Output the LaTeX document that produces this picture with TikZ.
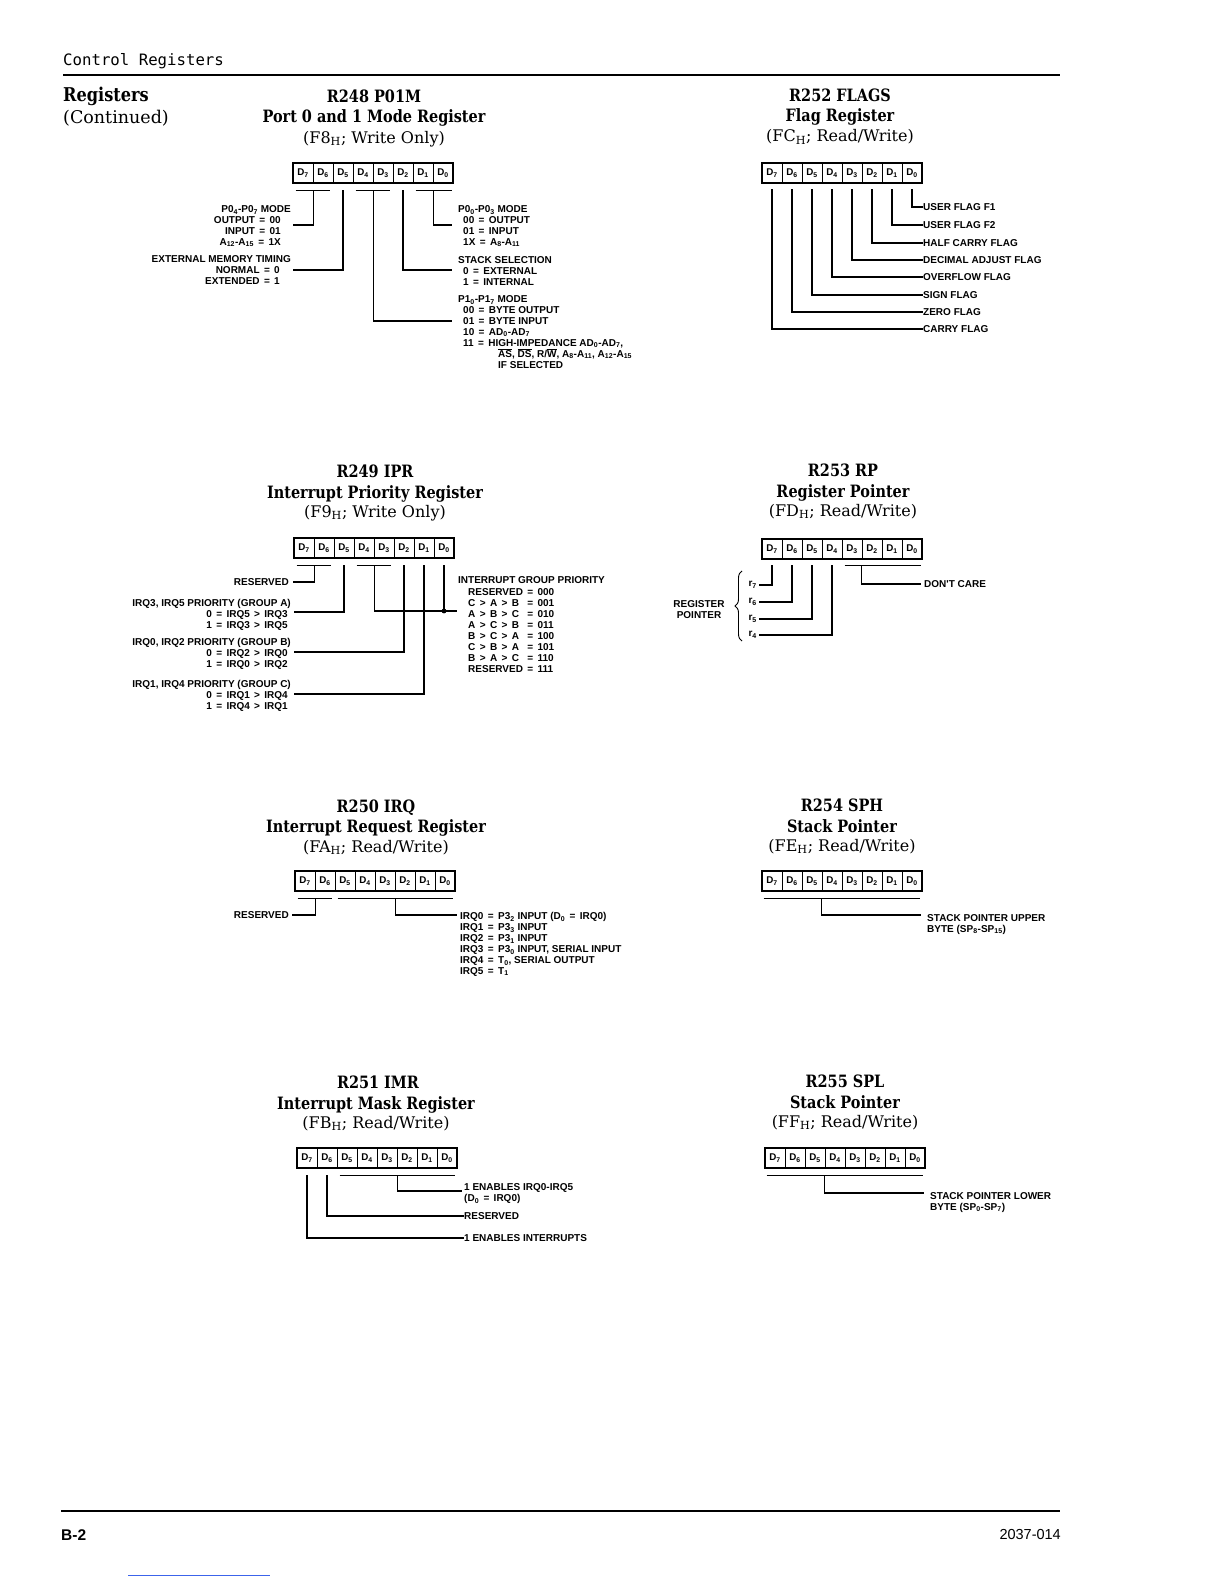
\documentclass[tikz,border=0pt]{standalone}
\usepackage{fontspec}
\setmainfont{DejaVu Serif}
\newfontfamily\slab[FakeStretch=0.85]{DejaVu Serif}
\newfontfamily\lab{Liberation Sans}
\newfontfamily\mono{DejaVu Sans Mono}
\usetikzlibrary{calc,decorations.pathreplacing}
\newcommand\ovl[1]{\ensuremath{\overline{\mbox{#1}}}}
\newcommand\sbs[1]{\textsubscript{#1}}
\newcommand\eq{\kern1.6pt\ =\ \kern1.6pt}
\newcommand\gtt{\kern1.6pt\ >\ \kern1.6pt}
\newcommand\regbox[3]{%
  \foreach \i in {0,...,7}{%
    \node[cell] (#1\i) at ({#2+10+20*(7-\i)},{#3+10}) {D\sbs{\i}};
  }%
  \draw[boxline] (#2,#3) rectangle ++(160,20);
}
\begin{document}
\begin{tikzpicture}[x=1pt,y=-1pt,
  cell/.style={draw,line width=0.7pt,minimum width=20pt,minimum height=20pt,inner sep=0pt,font=\lab\bfseries\fontsize{9.8}{10}\selectfont},
  boxline/.style={line width=1.9pt},
  conn/.style={line width=1.25pt},
  lbl/.style={inner sep=0pt,font=\lab\bfseries\fontsize{10}{10.9}\selectfont},
  ttl/.style={inner sep=0pt,anchor=base,font=\slab\bfseries\fontsize{17}{18}\selectfont},
  subttl/.style={inner sep=0pt,anchor=base,font=\fontsize{16}{18}\selectfont}]
\useasboundingbox[fill=white] (0,0) rectangle (1224,1584);

% header
\node[anchor=base west,inner sep=0pt,font=\mono\fontsize{15.7}{16}\selectfont] (hdr) at (63,66) {Control Registers};
\draw[line width=1.8pt] (63,75) -- (1060,75);
\node[anchor=base west,inner sep=0pt,font=\slab\bfseries\fontsize{19}{20}\selectfont] (reg) at (63,102) {Registers};
\node[anchor=base west,inner sep=0pt,font=\fontsize{17.5}{19}\selectfont] (cont) at (63,124) {(Continued)};

% footer
\draw[line width=2pt] (61,1511) -- (1060,1511);
\node[anchor=base west,inner sep=0pt,font=\lab\bfseries\fontsize{15.5}{16}\selectfont] (pg) at (61,1540) {B-2};
\node[anchor=base east,inner sep=0pt,font=\lab\fontsize{14.5}{15}\selectfont] (doc) at (1061,1539) {2037-014};
\draw[color={rgb,255:red,60;green,100;blue,235},line width=0.9pt] (128,1575) -- (270,1575);

% ================= R248 =================
\node[ttl] (a-t1) at (374,103) {R248 P01M};
\node[ttl] (a-t2) at (374,123) {Port 0 and 1 Mode Register};
\node[subttl] (a-t3) at (374,143) {(F8\sbs{H}; Write Only)};
\regbox{a}{293}{163}
\draw[conn] ($(a7.south west)+(3,7)$) -- ($(a6.south east)+(-3,7)$);
\coordinate (a-e1) at (293,225);
\draw[conn] ($(a7.south east)+(0,7)$) |- (a-e1);
\coordinate (a-e2) at (293,270);
\draw[conn] ($(a5.south)+(0,7)$) |- (a-e2);
\draw[conn] ($(a4.south west)+(3,7)$) -- ($(a3.south east)+(-3,7)$);
\coordinate (a-e3) at (452,321);
\draw[conn] ($(a4.south east)+(0,7)$) |- (a-e3);
\coordinate (a-e4) at (452,270);
\draw[conn] ($(a2.south)+(0,7)$) |- (a-e4);
\draw[conn] ($(a1.south west)+(3,7)$) -- ($(a0.south east)+(-1,7)$);
\coordinate (a-e5) at (452,225);
\draw[conn] ($(a1.south east)+(0,7)$) |- (a-e5);
\node[lbl,anchor=north east,align=right] (a-l1) at (291,205.5)
  {P0\sbs{4}-P0\sbs{7} MODE\\ \mbox{OUTPUT\eq 00\kern10pt}\\ \mbox{INPUT\eq 01\kern10pt}\\ \mbox{A\sbs{12}-A\sbs{15}\eq 1X\kern10pt}};
\node[lbl,anchor=north east,align=right] (a-l2) at (291,255.5)
  {EXTERNAL MEMORY TIMING\\ \mbox{NORMAL\eq 0\kern11pt}\\ \mbox{EXTENDED\eq 1\kern11pt}};
\node[lbl,anchor=north west,align=left] (a-r1) at (458,205.5)
  {P0\sbs{0}-P0\sbs{3} MODE\\ \mbox{\kern5pt 00\eq OUTPUT}\\ \mbox{\kern5pt 01\eq INPUT}\\ \mbox{\kern5pt 1X\eq A\sbs{8}-A\sbs{11}}};
\node[lbl,anchor=north west,align=left] (a-r2) at (458,256.5)
  {STACK SELECTION\\ \mbox{\kern5pt 0\eq EXTERNAL}\\ \mbox{\kern5pt 1\eq INTERNAL}};
\node[lbl,anchor=north west,align=left] (a-r3) at (458,295.5)
  {P1\sbs{0}-P1\sbs{7} MODE\\ \mbox{\kern5pt 00\eq BYTE OUTPUT}\\ \mbox{\kern5pt 01\eq BYTE INPUT}\\ \mbox{\kern5pt 10\eq AD\sbs{0}-AD\sbs{7}}\\ \mbox{\kern5pt 11\eq HIGH-IMPEDANCE AD\sbs{0}-AD\sbs{7},}\\ \mbox{\kern40pt \ovl{AS}, \ovl{DS}, R/\ovl{W}, A\sbs{8}-A\sbs{11}, A\sbs{12}-A\sbs{15}}\\ \mbox{\kern40pt IF SELECTED}};

% ================= R252 =================
\node[ttl] (b-t1) at (840,102) {R252 FLAGS};
\node[ttl] (b-t2) at (840,122) {Flag Register};
\node[subttl] (b-t3) at (840,142) {(FC\sbs{H}; Read/Write)};
\regbox{b}{762}{163}
\foreach \i/\yy/\txt in {0/207/USER FLAG F1,1/225/USER FLAG F2,2/243/HALF CARRY FLAG,3/260/DECIMAL ADJUST FLAG,4/277/OVERFLOW FLAG,5/295/SIGN FLAG,6/312/ZERO FLAG,7/329/CARRY FLAG}{
  \node[lbl,anchor=west] (b-l\i) at (923,\yy) {\txt};
  \draw[conn] ($(b\i.south)+(0,6)$) |- (b-l\i.west);
}

% ================= R249 =================
\node[ttl] (c-t1) at (375,477) {R249 IPR};
\node[ttl] (c-t2) at (375,498) {Interrupt Priority Register};
\node[subttl] (c-t3) at (375,517) {(F9\sbs{H}; Write Only)};
\regbox{c}{294}{538}
\draw[conn] ($(c7.south west)+(3,7)$) -- ($(c6.south east)+(-3,7)$);
\node[lbl,anchor=east] (c-l0) at (289,582) {RESERVED};
\coordinate (c-e0) at (293,582);
\draw[conn] ($(c7.south east)+(0,7)$) |- (c-e0);
\node[lbl,anchor=north east,align=right] (c-l1) at (291,599.5)
  {IRQ3, IRQ5 PRIORITY (GROUP A)\\ \mbox{0\eq IRQ5\gtt IRQ3\kern3pt}\\ \mbox{1\eq IRQ3\gtt IRQ5\kern3pt}};
\coordinate (c-e1) at (294,612);
\draw[conn] ($(c5.south)+(0,7)$) |- (c-e1);
\node[lbl,anchor=north east,align=right] (c-l2) at (291,638.5)
  {IRQ0, IRQ2 PRIORITY (GROUP B)\\ \mbox{0\eq IRQ2\gtt IRQ0\kern3pt}\\ \mbox{1\eq IRQ0\gtt IRQ2\kern3pt}};
\coordinate (c-e2) at (294,652);
\draw[conn] ($(c2.south)+(0,7)$) |- (c-e2);
\node[lbl,anchor=north east,align=right] (c-l3) at (291,680.5)
  {IRQ1, IRQ4 PRIORITY (GROUP C)\\ \mbox{0\eq IRQ1\gtt IRQ4\kern3pt}\\ \mbox{1\eq IRQ4\gtt IRQ1\kern3pt}};
\coordinate (c-e3) at (294,694);
\draw[conn] ($(c1.south)+(0,7)$) |- (c-e3);
\draw[conn] ($(c4.south west)+(3,7)$) -- ($(c3.south east)+(-3,7)$);
\coordinate (c-dot) at (444,611);
\coordinate (c-e4) at (457,611);
\draw[conn] ($(c4.south east)+(0,7)$) |- (c-e4);
\draw[conn] ($(c0.south)+(0,7)$) -- (c-dot);
\fill (c-dot) circle (2.4pt);
\node[lbl,anchor=west] (c-r0) at (458,580) {INTERRUPT GROUP PRIORITY};
\node[lbl,anchor=north west] (c-r1) at (468,588)
  {\begin{tabular}{@{}l@{\eq}l@{}}
   RESERVED & 000\\ C\gtt A\gtt B & 001\\ A\gtt B\gtt C & 010\\ A\gtt C\gtt B & 011\\
   B\gtt C\gtt A & 100\\ C\gtt B\gtt A & 101\\ B\gtt A\gtt C & 110\\ RESERVED & 111
   \end{tabular}};

% ================= R253 =================
\node[ttl] (d-t1) at (843,476) {R253 RP};
\node[ttl] (d-t2) at (843,497) {Register Pointer};
\node[subttl] (d-t3) at (843,516) {(FD\sbs{H}; Read/Write)};
\regbox{d}{762}{539}
\foreach \i/\yy in {7/585,6/602,5/619,4/635}{
  \node[lbl,anchor=east,font=\lab\bfseries\fontsize{10}{10}\selectfont] (d-r\i) at (757,\yy) {r\sbs{\i}};
  \coordinate (d-e\i) at ($(d-r\i.east)+(2,0)$);
  \draw[conn] ($(d\i.south)+(0,6)$) |- (d-e\i);
}
\draw[decorate,decoration={brace,amplitude=7pt},line width=0.9pt] (742,641) -- (742,571);
\node[lbl,align=center] (d-rp) at (699,609.5) {REGISTER\\POINTER};
\draw[conn] ($(d3.south west)+(3,6)$) -- ($(d0.south east)+(-1,6)$);
\node[lbl,anchor=west] (d-dc) at (924,584) {DON'T CARE};
\coordinate (d-edc) at (921,584);
\draw[conn] ($(d2.south west)+(0,6)$) |- (d-edc);

% ================= R250 =================
\node[ttl] (e-t1) at (376,812) {R250 IRQ};
\node[ttl] (e-t2) at (376,832) {Interrupt Request Register};
\node[subttl] (e-t3) at (376,852) {(FA\sbs{H}; Read/Write)};
\regbox{e}{295}{871}
\draw[conn] ($(e7.south west)+(3,7)$) -- ($(e6.south east)+(-3,7)$);
\node[lbl,anchor=east] (e-l0) at (289,915) {RESERVED};
\coordinate (e-e0) at (292,915);
\draw[conn] ($(e7.south east)+(0,7)$) |- (e-e0);
\draw[conn] ($(e5.south west)+(3,7)$) -- ($(e0.south east)+(-2,7)$);
\coordinate (e-e1) at (457,915);
\draw[conn] ($(e3.south east)+(0,7)$) |- (e-e1);
\node[lbl,anchor=north west,align=left] (e-r) at (460,912.5)
  {IRQ0\eq P3\sbs{2} INPUT (D\sbs{0}\eq IRQ0)\\ IRQ1\eq P3\sbs{3} INPUT\\ IRQ2\eq P3\sbs{1} INPUT\\ IRQ3\eq P3\sbs{0} INPUT, SERIAL INPUT\\ IRQ4\eq T\sbs{0}, SERIAL OUTPUT\\ IRQ5\eq T\sbs{1}};

% ================= R254 =================
\node[ttl] (f-t1) at (842,811) {R254 SPH};
\node[ttl] (f-t2) at (842,832) {Stack Pointer};
\node[subttl] (f-t3) at (842,851) {(FE\sbs{H}; Read/Write)};
\regbox{f}{762}{871}
\draw[conn] ($(f7.south west)+(2,7)$) -- ($(f0.south east)+(-2,7)$);
\coordinate (f-e) at (921,915);
\draw[conn] ($(f4.south west)+(0,7)$) |- (f-e);
\node[lbl,anchor=north west,align=left] (f-r) at (927,914)
  {STACK POINTER UPPER\\ BYTE (SP\sbs{8}-SP\sbs{15})};

% ================= R251 =================
\node[ttl] (g-t1) at (378,1088) {R251 IMR};
\node[ttl] (g-t2) at (376,1109) {Interrupt Mask Register};
\node[subttl] (g-t3) at (376,1128) {(FB\sbs{H}; Read/Write)};
\regbox{g}{297}{1148}
\draw[conn] ($(g5.south west)+(3,7)$) -- ($(g0.south east)+(-2,7)$);
\node[lbl,anchor=north west,align=left] (g-l1) at (464,1183.5)
  {1 ENABLES IRQ0-IRQ5\\ (D\sbs{0}\eq IRQ0)};
\coordinate (g-e1) at (462,1191);
\draw[conn] ($(g3.south east)+(0,7)$) |- (g-e1);
\node[lbl,anchor=west] (g-l2) at (464,1216) {RESERVED};
\draw[conn] ($(g6.south)+(0,7)$) |- (g-l2.west);
\node[lbl,anchor=west] (g-l3) at (464,1238) {1 ENABLES INTERRUPTS};
\draw[conn] ($(g7.south)+(0,7)$) |- (g-l3.west);

% ================= R255 =================
\node[ttl] (h-t1) at (845,1087) {R255 SPL};
\node[ttl] (h-t2) at (845,1108) {Stack Pointer};
\node[subttl] (h-t3) at (845,1127) {(FF\sbs{H}; Read/Write)};
\regbox{h}{765}{1148}
\draw[conn] ($(h7.south west)+(2,7)$) -- ($(h0.south east)+(-2,7)$);
\coordinate (h-e) at (924,1193);
\draw[conn] ($(h4.south west)+(0,7)$) |- (h-e);
\node[lbl,anchor=north west,align=left] (h-r) at (930,1192)
  {STACK POINTER LOWER\\ BYTE (SP\sbs{0}-SP\sbs{7})};
\end{tikzpicture}
\end{document}
